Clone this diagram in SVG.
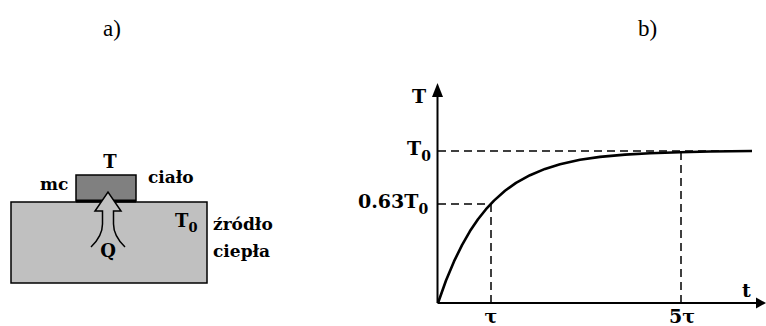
<svg xmlns="http://www.w3.org/2000/svg" width="766" height="326" viewBox="0 0 766 326">
<style>
.lbl{font-family:"DejaVu Serif","Liberation Serif",serif;font-weight:bold;fill:#000}
.cap{font-family:"Liberation Serif","Times New Roman",serif;font-size:23px;fill:#000}
.dash{stroke:#000;stroke-width:1.5;stroke-dasharray:8 5;fill:none}
.axis{stroke:#000;stroke-width:2;fill:none}
.head{fill:#000;stroke:none}
</style>
<rect width="766" height="326" fill="#fff"/>
<text class="cap" x="103" y="36">a)</text>
<text class="cap" x="638" y="36">b)</text>

<g id="source">
<rect x="11" y="202" width="196" height="81" fill="#c0c0c0" stroke="#000" stroke-width="1.5"/>
<text class="lbl" x="175" y="227" font-size="18">T<tspan font-size="13" dy="5">0</tspan></text>
<text class="lbl" x="213" y="230" font-size="17">źródło</text>
<text class="lbl" x="213" y="257" font-size="17">ciepła</text>
</g>
<g id="body">
<rect x="76" y="175" width="60" height="26" fill="#808080" stroke="#000" stroke-width="1.5"/>
<line x1="76" y1="201" x2="136" y2="201" stroke="#000" stroke-width="3"/>
<text class="lbl" x="110" y="168" font-size="18" text-anchor="middle">T</text>
<text class="lbl" x="40" y="190" font-size="17">mc</text>
<text class="lbl" x="148" y="183" font-size="17">ciało</text>
</g>
<g id="connectors">
<path d="M91,247 Q102.5,236 102.5,224 L102.5,211 L95,211 L108,192 L121,211 L113.5,211 L113.5,224 Q113.5,236 125,247" fill="#c0c0c0" stroke="#000" stroke-width="1.5" stroke-linejoin="miter"/>
<text class="lbl" x="108" y="257" font-size="18" text-anchor="middle">Q</text>
</g>

<g id="chart">
<line class="axis" x1="437.5" y1="95" x2="437.5" y2="303"/>
<line class="axis" x1="437.5" y1="303" x2="758" y2="303"/>
<polygon class="head" points="437.5,83 432,97 443,97"/>
<polygon class="head" points="766,303 756,297.5 756,308.5"/>
<line class="dash" x1="438" y1="151" x2="752" y2="151"/>
<line class="dash" x1="438" y1="204" x2="491" y2="204"/>
<line class="dash" x1="491" y1="204" x2="491" y2="302"/>
<line class="dash" x1="681" y1="152" x2="681" y2="302"/>
<polyline points="438,303 446,280.5 454,261.4 462,245.1 470,231.1 478,219.3 486,209.2 494,200.6 505,190.8 516,182.9 530,175.2 545,168.9 560,164.2 580,159.8 600,156.9 625,154.6 650,153.2 680,152.2 710,151.5 752,151" fill="none" stroke="#000" stroke-width="2.6" stroke-linejoin="round"/>
<text class="lbl" x="412" y="103" font-size="19">T</text>
<text class="lbl" x="407" y="155" font-size="19">T<tspan font-size="14" dy="6">0</tspan></text>
<text class="lbl" x="358" y="208" font-size="19">0.63T<tspan font-size="14" dy="6">0</tspan></text>
<text class="lbl" x="742" y="297" font-size="19">t</text>
<text class="lbl" x="491" y="323" font-size="19" text-anchor="middle">τ</text>
<text class="lbl" x="669" y="323" font-size="19">5τ</text>
</g>
</svg>
